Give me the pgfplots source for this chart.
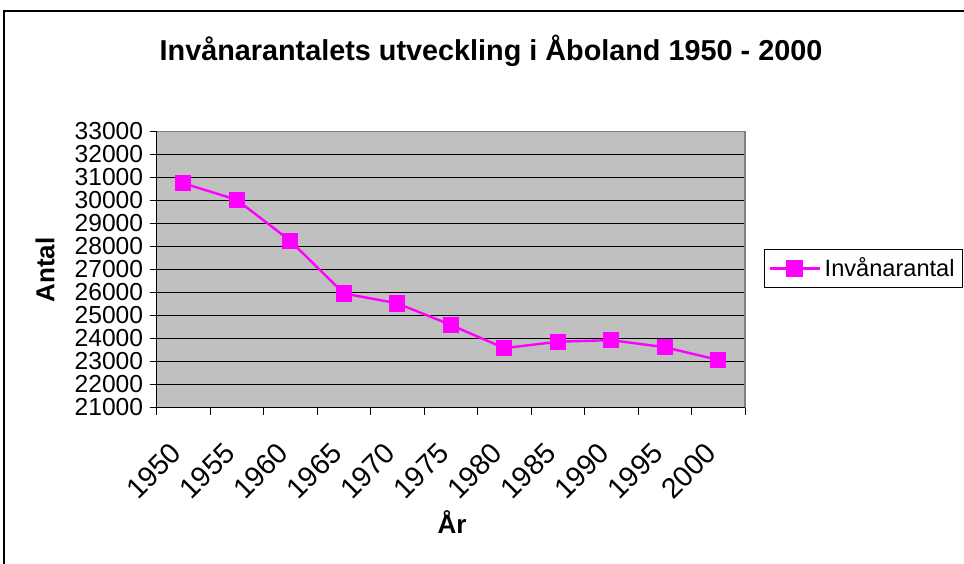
\documentclass[border=0pt]{standalone}
\usepackage{fontspec}
\setmainfont{Liberation Sans}
\usepackage{pgfplots}
\pgfplotsset{compat=1.18}
\definecolor{plotgray}{RGB}{192,192,192}
\definecolor{bordergray}{RGB}{128,128,128}
\definecolor{mag}{RGB}{255,0,255}
\begin{document}
\begin{tikzpicture}
\clip (0,0) rectangle (482pt,281.5pt);
\draw[black, line width=0.6pt] (2pt,-10pt) rectangle (500pt,276pt);
\begin{axis}[
  at={(78.25pt,77.75pt)}, anchor=south west,
  scale only axis, width=294.25pt, height=138pt,
  xmin=-0.5, xmax=10.5, ymin=21000, ymax=33000,
  xtick={0,...,10},
  xticklabels={1950,1955,1960,1965,1970,1975,1980,1985,1990,1995,2000},
  minor xtick={-0.5,0.5,...,10.5},
  ytick={21000,22000,...,33000},
  scaled ticks=false,
  xtick pos=bottom, ytick pos=left,
  /pgf/number format/assume math mode=true,
  /pgf/number format/1000 sep={},
  tick align=outside,
  major x tick style={draw=none},
  minor tick length=3.5pt, major tick length=3.5pt,
  every tick/.style={black, line width=0.5pt},
  axis background/.style={fill=plotgray},
  axis line style={draw=none},
  ymajorgrids, grid style={black, line width=0.5pt},
  tick label style={font=\fontsize{12.3}{14}\selectfont},
  yticklabel style={anchor=east, xshift=-1pt, inner sep=2pt},
  xticklabel style={font=\fontsize{14.3}{16}\selectfont,
    yshift=-14.5pt, xshift=-1pt, rotate=45, anchor=east},
  clip=false,
  legend style={at={(1.032,0.574)}, anchor=north west, draw=black, line width=0.5pt,
    font=\fontsize{11.8}{14}\selectfont, inner sep=2pt, row sep=0pt},
  legend image code/.code={
    \draw[mag, line width=1.2pt] (0pt,0pt) -- (25pt,0pt);
    \draw[mag, fill=mag] (9pt,-3.5pt) rectangle (16pt,3.5pt);
  },
]
\draw[bordergray, line width=0.6pt] (rel axis cs:0,1) -- (rel axis cs:1,1) -- (rel axis cs:1,0);
\draw[black, line width=0.6pt] (rel axis cs:0,1) -- (rel axis cs:0,0) -- (rel axis cs:1,0);
\addplot[mag, line width=1.2pt, mark=square*, mark size=3.5pt, mark options={fill=mag, draw=mag}]
  coordinates {(0,30750) (1,30030) (2,28250) (3,25960) (4,25530) (5,24590)
               (6,23580) (7,23860) (8,23930) (9,23620) (10,23070)};
\addlegendentry{Invånarantal}
\end{axis}
\node[font=\bfseries\fontsize{14.4}{17}\selectfont] at (245.5pt,256pt) {Invånarantalets utveckling i Åboland 1950 - 2000};
\node[font=\bfseries\fontsize{13}{15}\selectfont, rotate=90] at (22.5pt,146.5pt) {Antal};
\node[font=\bfseries\fontsize{13}{15}\selectfont] at (226pt,20.5pt) {År};
\end{tikzpicture}
\end{document}
